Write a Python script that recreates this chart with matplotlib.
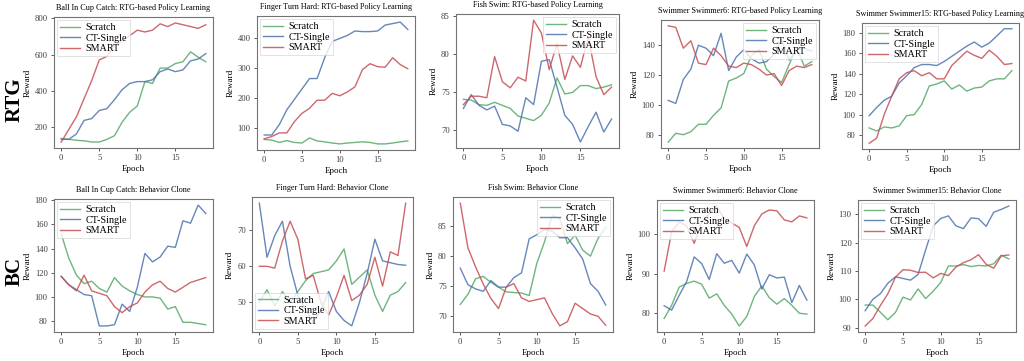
import matplotlib
matplotlib.use("Agg")
import matplotlib.pyplot as plt
from matplotlib.ticker import MultipleLocator
import numpy as np

plt.rcParams['font.family'] = ['Liberation Serif', 'DejaVu Serif']

epochs = list(range(20))
series_names = ["Scratch", "CT-Single", "SMART"]
colors = ["#55A868", "#4C72B0", "#C44E52"]

titles = [
    "Ball In Cup Catch: RTG-based Policy Learning",
    "Finger Turn Hard: RTG-based Policy Learning",
    "Fish Swim: RTG-based Policy Learning",
    "Swimmer Swimmer6: RTG-based Policy Learning",
    "Swimmer Swimmer15: RTG-based Policy Learning",
    "Ball In Cup Catch: Behavior Clone",
    "Finger Turn Hard: Behavior Clone",
    "Fish Swim: Behavior Clone",
    "Swimmer Swimmer6: Behavior Clone",
    "Swimmer Swimmer15: Behavior Clone",
]

# RTG row
ball_rtg_scratch = [135, 130, 125, 122, 115, 115, 130, 150, 225, 280, 315, 450, 440, 525, 525, 550, 560, 615, 585, 560]
ball_rtg_ct = [130, 130, 160, 235, 245, 290, 300, 350, 405, 440, 450, 450, 460, 505, 520, 505, 515, 565, 575, 605]
ball_rtg_smart = [115, 185, 255, 355, 455, 570, 590, 650, 675, 705, 735, 725, 735, 770, 755, 775, 765, 755, 745, 765]

finger_rtg_scratch = [60, 58, 50, 56, 50, 48, 65, 55, 52, 48, 45, 48, 50, 52, 50, 45, 45, 48, 52, 55]
finger_rtg_ct = [75, 75, 110, 160, 195, 230, 265, 265, 335, 390, 400, 410, 425, 423, 423, 425, 445, 450, 455, 430]
finger_rtg_smart = [62, 70, 82, 82, 120, 148, 165, 192, 192, 215, 207, 220, 237, 295, 315, 305, 303, 335, 312, 298]

fish_rtg_scratch = [74.0, 73.9, 73.3, 73.2, 73.6, 73.2, 72.8, 71.8, 71.5, 71.2, 71.9, 73.5, 76.8, 74.7, 74.9, 75.8, 75.8, 75.4, 75.6, 75.9]
fish_rtg_ct = [72.8, 74.6, 73.2, 72.6, 73.1, 70.7, 70.5, 69.8, 74.2, 73.3, 79.0, 79.2, 75.6, 71.9, 70.7, 68.4, 70.4, 72.3, 69.7, 71.4]
fish_rtg_smart = [73.3, 74.4, 74.4, 74.2, 79.6, 76.3, 75.5, 76.9, 76.4, 84.4, 82.7, 77.9, 81.3, 76.6, 79.7, 78.2, 82.2, 77.0, 74.6, 75.6]

sw6_rtg_scratch = [75, 81, 80, 82, 87, 87, 93, 98, 116, 118, 121, 133, 137, 124, 119, 115, 127, 138, 126, 129]
sw6_rtg_ct = [103, 101, 117, 124, 140, 138, 133, 148, 123, 132, 137, 131, 128, 129, 134, 144, 130, 137, 138, 136]
sw6_rtg_smart = [153, 152, 138, 143, 128, 127, 138, 133, 126, 125, 128, 127, 124, 120, 121, 113, 123, 126, 125, 127]

sw15_rtg_scratch = [87, 84, 88, 87, 89, 99, 100, 110, 128, 130, 133, 125, 129, 123, 126, 127, 133, 135, 135, 143]
sw15_rtg_ct = [99, 107, 114, 118, 131, 138, 146, 149, 149, 148, 152, 157, 162, 167, 171, 166, 170, 177, 184, 184]
sw15_rtg_smart = [72, 77, 100, 118, 135, 141, 143, 138, 141, 135, 135, 148, 155, 162, 158, 155, 163, 157, 149, 150]

# BC row
ball_bc_scratch = [152, 132, 118, 111, 113, 107, 104, 116, 109, 105, 102, 100, 100, 99, 90, 92, 79, 79, 78, 77]
ball_bc_ct = [117, 110, 106, 102, 101, 76, 76, 77, 94, 88, 108, 136, 129, 133, 142, 141, 163, 161, 176, 169]
ball_bc_smart = [117, 110, 105, 118, 105, 103, 101, 92, 87, 92, 95, 104, 110, 113, 107, 104, 108, 112, 114, 116]

finger_bc_scratch = [50, 53.5, 49, 53, 50, 53, 56, 58, 58.5, 59, 61.5, 64.8, 55, 57, 59, 52, 47.5, 52, 53, 55.5]
finger_bc_ct = [77.5, 62.5, 68.5, 72.5, 60, 52, 48, 44.5, 48, 53, 47.5, 45, 43.5, 50, 58, 67.5, 61.5, 61, 60.5, 60.3]
finger_bc_smart = [60, 60, 59.5, 67, 72.5, 67.5, 56.5, 57.5, 50, 46.5, 51.5, 57.5, 50.5, 52, 55, 62.5, 54.5, 64, 63, 77.5]

fish_bc_scratch = [71.9, 73.6, 76.2, 76.6, 75.6, 74.8, 74.0, 73.9, 73.8, 73.4, 78.8, 82.4, 86.8, 86.3, 82.1, 83.5, 81.0, 80.0, 83.0, 84.8]
fish_bc_ct = [78.0, 75.2, 74.5, 74.1, 75.9, 74.8, 74.8, 76.4, 77.2, 82.9, 83.6, 84.5, 84.2, 83.1, 83.1, 81.4, 79.5, 75.4, 74.1, 71.8]
fish_bc_smart = [88.9, 81.4, 78.2, 75.3, 72.9, 71.2, 74.8, 75.4, 73.0, 72.4, 72.7, 73.0, 70.4, 68.3, 69.0, 72.1, 71.2, 70.3, 69.9, 68.4]

sw6_bc_scratch = [78.7, 82, 86.6, 87.5, 88.1, 87.3, 83.8, 84.9, 82, 79.8, 76.8, 79.2, 84.2, 86.9, 83.9, 82.3, 83.7, 82, 80, 79.8]
sw6_bc_ct = [81.9, 80.8, 84.5, 88, 94.2, 92.5, 88.5, 95, 92.6, 93.3, 90.1, 94.9, 92.2, 86.1, 89.7, 88.9, 89.1, 82.7, 87, 83.3]
sw6_bc_smart = [90.6, 100.5, 103, 102, 97.6, 103, 105, 107, 103.8, 102.7, 101.6, 96.8, 102, 105, 106, 105.8, 103.5, 103, 104.5, 104]

sw15_bc_scratch = [98, 98, 95.5, 92.8, 95.4, 100.8, 99.8, 103.7, 100.3, 102.9, 106, 111.8, 111.8, 112.3, 111.6, 112, 111.8, 112.6, 115.6, 114.3]
sw15_bc_ct = [96, 100, 102, 105.7, 108, 107.4, 106.8, 108.8, 117.5, 126, 128.6, 129.5, 126, 125, 128.8, 128.5, 125.8, 130.8, 131.8, 133]
sw15_bc_smart = [90.6, 93.2, 97.8, 102, 107.8, 110.5, 110.3, 109.5, 109.6, 107.6, 109.2, 108.4, 111.4, 113, 114, 115.8, 112.4, 111, 115.4, 115.7]

panel_data = [
    (ball_rtg_scratch, ball_rtg_ct, ball_rtg_smart),
    (finger_rtg_scratch, finger_rtg_ct, finger_rtg_smart),
    (fish_rtg_scratch, fish_rtg_ct, fish_rtg_smart),
    (sw6_rtg_scratch, sw6_rtg_ct, sw6_rtg_smart),
    (sw15_rtg_scratch, sw15_rtg_ct, sw15_rtg_smart),
    (ball_bc_scratch, ball_bc_ct, ball_bc_smart),
    (finger_bc_scratch, finger_bc_ct, finger_bc_smart),
    (fish_bc_scratch, fish_bc_ct, fish_bc_smart),
    (sw6_bc_scratch, sw6_bc_ct, sw6_bc_smart),
    (sw15_bc_scratch, sw15_bc_ct, sw15_bc_smart),
]

ytick_steps = [200, 100, 5, 20, 20, 20, 10, 5, 10, 10]

legend_locs = ["upper left", "upper left", "upper right", "upper right", "upper left",
               "upper left", "lower left", "upper right", "upper left", "upper left"]

# axes boxes in pixels: left, right, top, bottom
boxes = [
    (54, 213, 17, 148), (257, 415, 16, 150), (456, 619, 14, 148), (661, 819, 20, 148), (862, 1019, 23, 149),
    (54, 213, 199, 332), (252, 413, 197, 332), (453, 613, 197, 332), (657, 814, 200, 332), (858, 1016, 200, 332),
]

W, H = 1024, 361
fig = plt.figure(figsize=(W / 100, H / 100), dpi=100)

for i, (l, r, t, b) in enumerate(boxes):
    ax = fig.add_axes([l / W, 1 - b / H, (r - l) / W, (b - t) / H])
    for name, col, vals in zip(series_names, colors, panel_data[i]):
        ax.plot(epochs, vals, color=col, lw=1.0, alpha=0.85, label=name)
    ax.set_title(titles[i], fontsize=5.9, pad=5)
    ax.set_xlabel("Epoch", fontsize=6.5, labelpad=2)
    ax.set_ylabel("Reward", fontsize=6.5, labelpad=2)
    ax.set_xticks([0, 5, 10, 15])
    ax.yaxis.set_major_locator(MultipleLocator(ytick_steps[i]))
    ax.tick_params(labelsize=6.2, length=2.5, width=0.6, pad=2, colors='0.25')
    for s in ax.spines.values():
        s.set_color('0.45')
        s.set_linewidth(0.8)
    leg = ax.legend(loc=legend_locs[i], fontsize=7.3, handlelength=2.0,
                    borderpad=0.3, labelspacing=0.15, handletextpad=0.5,
                    fancybox=False, framealpha=0.8, borderaxespad=0.3)
    leg.get_frame().set_linewidth(0.5)

fig.text(15 / W, 1 - 100 / H, "RTG", rotation=90, fontsize=15, fontweight='bold',
         ha='center', va='center')
fig.text(15 / W, 1 - 272 / H, "BC", rotation=90, fontsize=15, fontweight='bold',
         ha='center', va='center')

fig.savefig("out.png", dpi=100)
